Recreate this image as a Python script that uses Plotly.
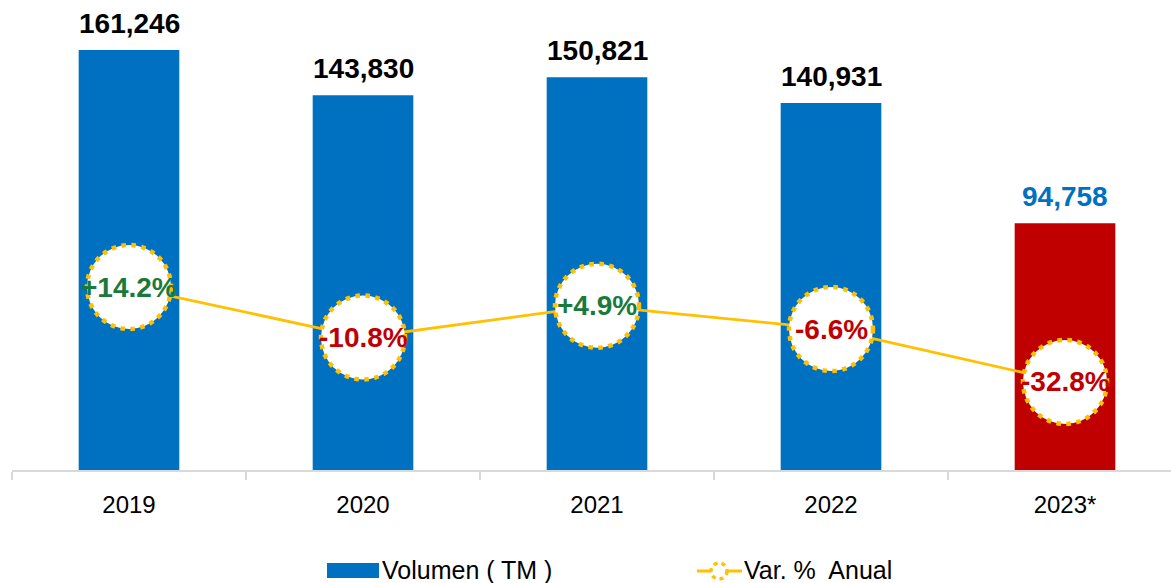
import plotly.graph_objects as go

years = ["2019", "2020", "2021", "2022", "2023*"]
volumen = [161246, 143830, 150821, 140931, 94758]
variacion = [14.2, -10.8, 4.9, -6.6, -32.8]
var_labels = ["+14.2%", "-10.8%", "+4.9%", "-6.6%", "-32.8%"]
vol_labels = ["161,246", "143,830", "150,821", "140,931", "94,758"]

BLUE = "#0070C0"
RED = "#C00000"
GOLD = "#FFC000"
GREEN = "#1A7A3C"
FONT = "Arial, Liberation Sans, sans-serif"

bar_colors = [BLUE] * 4 + [RED]
vol_label_colors = ["#000000"] * 4 + [BLUE]
var_colors = [GREEN if v > 0 else RED for v in variacion]

fig = go.Figure()
fig.add_trace(go.Bar(
    x=years, y=volumen, width=0.43, marker=dict(color=bar_colors, line=dict(width=0)),
    name="Volumen ( TM )", showlegend=False, yaxis="y"))
fig.add_trace(go.Scatter(
    x=years, y=variacion, mode="lines+markers", yaxis="y2",
    line=dict(color=GOLD, width=2.8),
    marker=dict(size=84, color="white", line=dict(width=0)),
    name="Var. %  Anual", showlegend=False, cliponaxis=False))

shapes = []
annotations = []
for i, yr in enumerate(years):
    # category index i locates the category on the axis
    shapes.append(dict(type="circle", xref="x", yref="y2", xsizemode="pixel", ysizemode="pixel",
                       xanchor=i, yanchor=variacion[i], x0=-42, x1=42, y0=-42, y1=42,
                       line=dict(color=GOLD, width=4.5, dash="4.5px,5.5px"), layer="above"))
    annotations.append(dict(x=i, y=variacion[i], xref="x", yref="y2", text=var_labels[i],
                            showarrow=False, xanchor="center", yanchor="middle",
                            font=dict(family=FONT, size=28, color=var_colors[i], weight="bold")))
    annotations.append(dict(x=i, y=volumen[i], xref="x", yref="y", text=vol_labels[i],
                            showarrow=False, xanchor="center", yanchor="bottom", yshift=9,
                            font=dict(family=FONT, size=28, color=vol_label_colors[i], weight="bold")))

# custom legend (paper coordinates)
def px_x(p):
    return (p - 12) / 1159

def px_y(p):
    return (470 - p) / 470

shapes.append(dict(type="rect", xref="paper", yref="paper", x0=px_x(327), x1=px_x(379),
                   y0=px_y(578), y1=px_y(563), fillcolor=BLUE, line=dict(width=0)))
shapes.append(dict(type="line", xref="paper", yref="paper", x0=px_x(697), x1=px_x(742),
                   y0=px_y(571), y1=px_y(571), line=dict(color=GOLD, width=2.8)))
shapes.append(dict(type="circle", xref="paper", yref="paper", xsizemode="pixel", ysizemode="pixel",
                   xanchor=px_x(719), yanchor=px_y(571), x0=-8, x1=8, y0=-8, y1=8,
                   fillcolor="white", line=dict(color=GOLD, width=3.5, dash="4px,4px")))
annotations.append(dict(x=px_x(381), y=px_y(570), xref="paper", yref="paper", text="Volumen ( TM )",
                        showarrow=False, xanchor="left", yanchor="middle", borderpad=0,
                        font=dict(family=FONT, size=25, color="#000000")))
annotations.append(dict(x=px_x(743), y=px_y(570), xref="paper", yref="paper", text="Var. %\u00a0 Anual",
                        showarrow=False, xanchor="left", yanchor="middle", borderpad=0,
                        font=dict(family=FONT, size=25, color="#000000")))

fig.update_layout(
    width=1171, height=583,
    margin=dict(l=12, r=0, t=0, b=113),
    paper_bgcolor="white", plot_bgcolor="white",
    showlegend=False,
    xaxis=dict(type="category", range=[-0.5, 4.453], tickson="boundaries", ticks="outside",
               ticklen=8, tickcolor="#D9D9D9", tickwidth=1.5, showline=True, linecolor="#D9D9D9",
               linewidth=1.5, showgrid=False, ticklabelstandoff=12,
               tickfont=dict(family=FONT, size=24, color="#000000")),
    yaxis=dict(range=[0, 180442], visible=False, showgrid=False),
    yaxis2=dict(range=[-76.4, 156.3], overlaying="y", visible=False, showgrid=False),
    shapes=shapes, annotations=annotations,
)

fig.write_html("out.html", config={"displayModeBar": False},
               post_script="document.body.style.margin='0';document.body.style.overflow='hidden';")
